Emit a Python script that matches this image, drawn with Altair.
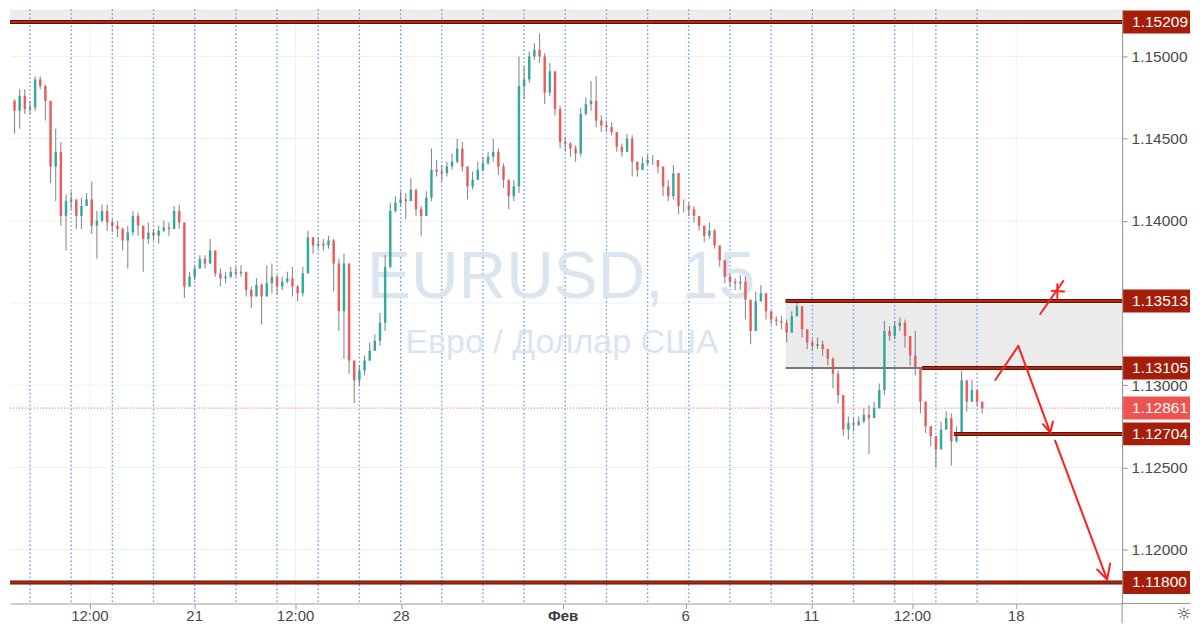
import altair as alt
import pandas as pd

# ---------------- data ----------------
first_index = -3          # candle index of the first visible candle
first_open = 1.1473

closes = [
    1.1467, 1.1476, 1.1468, 1.1469, 1.1486, 1.1482, 1.1473, 1.1433, 1.1442, 1.1403,
    1.1412, 1.1413, 1.1403, 1.1409, 1.1413, 1.1397, 1.1400, 1.1406, 1.1399, 1.1397,
    1.1395, 1.1388, 1.1393, 1.1403, 1.1397, 1.1389, 1.1393, 1.1391, 1.1394, 1.1396,
    1.1395, 1.1406, 1.1399, 1.1360, 1.1366, 1.1371, 1.1377, 1.1374, 1.1382, 1.1368,
    1.1365, 1.1366, 1.1369, 1.1368, 1.1369, 1.1358, 1.1354, 1.1361, 1.1354, 1.1362,
    1.1366, 1.1360, 1.1363, 1.1365, 1.1360, 1.1356, 1.1368, 1.1390, 1.1385, 1.1386,
    1.1385, 1.1388, 1.1374, 1.1345, 1.1374, 1.1315, 1.1303, 1.1309, 1.1315, 1.1321,
    1.1327, 1.1338, 1.1372, 1.1406, 1.1411, 1.1413, 1.1412, 1.1419, 1.1407, 1.1403,
    1.1414, 1.1431, 1.1430, 1.1429, 1.1433, 1.1436, 1.1444, 1.1433, 1.1421, 1.1425,
    1.1431, 1.1435, 1.1439, 1.1442, 1.1433, 1.1425, 1.1415, 1.1421, 1.1482, 1.1486,
    1.1500, 1.1504, 1.1500, 1.1478, 1.1491, 1.1468, 1.1448, 1.1447, 1.1444, 1.1441,
    1.1465, 1.1471, 1.1473, 1.1461, 1.1458, 1.1457, 1.1454, 1.1445, 1.1442, 1.1450,
    1.1436, 1.1431, 1.1435, 1.1437, 1.1437, 1.1433, 1.1421, 1.1415, 1.1429, 1.1409,
    1.1409, 1.1407, 1.1403, 1.1397, 1.1391, 1.1394, 1.1385, 1.1376, 1.1366, 1.1363,
    1.1362, 1.1363, 1.1352, 1.1333, 1.1351, 1.1356, 1.1345, 1.1340, 1.1339, 1.1338,
    1.1332, 1.1342, 1.1348, 1.1334, 1.1326, 1.1324, 1.1325, 1.1322, 1.1316, 1.1307,
    1.1294, 1.1273, 1.1277, 1.1276, 1.1278, 1.1282, 1.1280, 1.1286, 1.1297, 1.1333,
    1.1330, 1.1336, 1.1338, 1.1330, 1.1318, 1.1310, 1.1290, 1.1275, 1.1269, 1.1261,
    1.1273, 1.1280, 1.1266, 1.1271, 1.1303, 1.1290, 1.1297, 1.1290, 1.12861,
]
highs = [
    1.1474, 1.1480, 1.1480, 1.1473, 1.1488, 1.1488, 1.1483, 1.1465, 1.1456, 1.1448,
    1.1416, 1.1418, 1.1413, 1.1414, 1.1417, 1.1424, 1.1406, 1.1410, 1.1410, 1.1401,
    1.1400, 1.1396, 1.1397, 1.1406, 1.1405, 1.1397, 1.1399, 1.1395, 1.1397, 1.1400,
    1.1399, 1.1409, 1.1410, 1.1399, 1.1369, 1.1373, 1.1379, 1.1379, 1.1389, 1.1382,
    1.1371, 1.1369, 1.1372, 1.1372, 1.1373, 1.1369, 1.1360, 1.1365, 1.1362, 1.1373,
    1.1374, 1.1367, 1.1366, 1.1369, 1.1372, 1.1361, 1.1372, 1.1394, 1.1390, 1.1390,
    1.1389, 1.1391, 1.1389, 1.1377, 1.1380, 1.1371, 1.1309, 1.1312, 1.1318, 1.1326,
    1.1331, 1.1344, 1.1379, 1.1411, 1.1415, 1.1418, 1.1417, 1.1426, 1.1415, 1.1409,
    1.1418, 1.1444, 1.1437, 1.1434, 1.1436, 1.1441, 1.1450, 1.1448, 1.1431, 1.1430,
    1.1436, 1.1439, 1.1442, 1.1450, 1.1444, 1.1435, 1.1424, 1.1425, 1.1500, 1.1494,
    1.1503, 1.1508, 1.1514, 1.1502, 1.1496, 1.1491, 1.1470, 1.1451, 1.1448, 1.1446,
    1.1469, 1.1475, 1.1485, 1.1488, 1.1464, 1.1461, 1.1460, 1.1454, 1.1447, 1.1453,
    1.1452, 1.1436, 1.1439, 1.1440, 1.1440, 1.1437, 1.1433, 1.1425, 1.1434, 1.1429,
    1.1413, 1.1411, 1.1409, 1.1403, 1.1395, 1.1399, 1.1395, 1.1385, 1.1372, 1.1368,
    1.1365, 1.1367, 1.1366, 1.1344, 1.1357, 1.1361, 1.1356, 1.1345, 1.1342, 1.1342,
    1.1340, 1.1345, 1.1351, 1.1348, 1.1333, 1.1328, 1.1329, 1.1327, 1.1322, 1.1317,
    1.1309, 1.1290, 1.1281, 1.1280, 1.1281, 1.1286, 1.1288, 1.1290, 1.1301, 1.1339,
    1.1336, 1.1339, 1.1341, 1.1340, 1.1330, 1.1333, 1.1310, 1.1290, 1.1275, 1.1269,
    1.1278, 1.1284, 1.1283, 1.1275, 1.1309, 1.1300, 1.1303, 1.1297, 1.1290,
]
lows = [
    1.1453, 1.1456, 1.1465, 1.1465, 1.1467, 1.1480, 1.1461, 1.1423, 1.1412, 1.1397,
    1.1382, 1.1407, 1.1395, 1.1395, 1.1409, 1.1392, 1.1377, 1.1399, 1.1394, 1.1393,
    1.1390, 1.1382, 1.1371, 1.1391, 1.1391, 1.1369, 1.1386, 1.1388, 1.1386, 1.1393,
    1.1391, 1.1395, 1.1395, 1.1353, 1.1360, 1.1364, 1.1372, 1.1371, 1.1374, 1.1366,
    1.1360, 1.1362, 1.1365, 1.1366, 1.1366, 1.1354, 1.1347, 1.1356, 1.1337, 1.1356,
    1.1356, 1.1355, 1.1358, 1.1362, 1.1354, 1.1351, 1.1354, 1.1368, 1.1380, 1.1383,
    1.1382, 1.1383, 1.1357, 1.1333, 1.1316, 1.1307, 1.1289, 1.1300, 1.1306, 1.1316,
    1.1321, 1.1324, 1.1333, 1.1371, 1.1405, 1.1409, 1.1401, 1.1412, 1.1403, 1.1391,
    1.1406, 1.1412, 1.1427, 1.1424, 1.1427, 1.1431, 1.1435, 1.1430, 1.1413, 1.1419,
    1.1425, 1.1430, 1.1434, 1.1436, 1.1428, 1.1420, 1.1407, 1.1412, 1.1417, 1.1474,
    1.1484, 1.1498, 1.1496, 1.1471, 1.1476, 1.1464, 1.1444, 1.1442, 1.1439, 1.1436,
    1.1439, 1.1464, 1.1467, 1.1457, 1.1454, 1.1454, 1.1452, 1.1442, 1.1439, 1.1442,
    1.1427, 1.1427, 1.1431, 1.1434, 1.1434, 1.1429, 1.1415, 1.1412, 1.1413, 1.1404,
    1.1405, 1.1403, 1.1399, 1.1394, 1.1387, 1.1389, 1.1383, 1.1372, 1.1362, 1.1360,
    1.1358, 1.1358, 1.1340, 1.1325, 1.1338, 1.1351, 1.1340, 1.1337, 1.1336, 1.1334,
    1.1326, 1.1334, 1.1342, 1.1329, 1.1322, 1.1321, 1.1322, 1.1318, 1.1312, 1.1298,
    1.1289, 1.1269, 1.1267, 1.1272, 1.1275, 1.1277, 1.1258, 1.1280, 1.1287, 1.1294,
    1.1327, 1.1328, 1.1333, 1.1323, 1.1312, 1.1306, 1.1283, 1.1271, 1.1263, 1.1250,
    1.1263, 1.1275, 1.1251, 1.1265, 1.1269, 1.1284, 1.1292, 1.1287, 1.1283,
]

session_starts = [0, 8, 16, 24, 32, 40, 48, 56, 64, 72, 80, 88,
                  96, 104, 112, 120, 128, 136, 144, 152, 160, 168, 176, 184]
time_ticks = [11.64, 32.0, 51.6, 72.15, 103.57, 127.4, 151.86, 171.45, 191.6]
time_labels = ["12:00", "21", "12:00", "28", "Фев", "6", "11", "12:00", "18"]
time_bold = [False, False, False, False, True, False, False, False, False]

price_ticks = [1.12, 1.125, 1.13, 1.14, 1.145, 1.15]
grid_prices = [1.12, 1.125, 1.13, 1.135, 1.14, 1.145, 1.15]

full_levels = [1.15209, 1.118]
part_levels = [1.13513, 1.13105, 1.12704]
part_starts = [146.8, 173.3, 179.5]
zone_start, zone_end_gray = 146.8, 173.3
zone_low, zone_high = 1.13105, 1.13513
last_price = 1.12861

tag_prices = [1.15209, 1.13513, 1.13105, 1.12861, 1.12704, 1.118]
tag_colors = ["#a61d0a", "#a61d0a", "#a61d0a", "#ef5350", "#a61d0a", "#a61d0a"]

# hand-drawn arrows: segments (x1, p1) -> (x2, p2)
arr_x1 = [187.55, 192.01, 196.80, 198.74, 199.18, 207.33, 209.85, 196.28, 198.5, 199.6]
arr_p1 = [1.13032, 1.13239, 1.12763, 1.12779, 1.12662, 1.11879, 1.11915, 1.13433, 1.13575, 1.13615]
arr_x2 = [192.01, 198.22, 198.22, 198.22, 209.27, 209.27, 209.27, 200.74, 200.9, 199.6]
arr_p2 = [1.13239, 1.12712, 1.12712, 1.12712, 1.11818, 1.11818, 1.11818, 1.13634, 1.13570, 1.13528]

# ---------------- tables ----------------
n = len(closes)
opens = [first_open] + closes[:-1]
candles = pd.DataFrame({
    "i": list(range(first_index, first_index + n)),
    "open": opens, "close": closes, "high": highs, "low": lows,
})
candles["hi"] = candles[["high", "open", "close"]].max(axis=1)
candles["lo"] = candles[["low", "open", "close"]].min(axis=1)
candles["dir"] = ["up" if c >= o else "down" for o, c in zip(opens, closes)]

W, H = 1114, 595
X_DOM = [-3.88, 212.18]
Y_DOM = [1.116722, 1.152854]
FONT = "Liberation Sans"

X_AXIS = alt.Axis(orient="bottom", values=time_ticks, labels=False, tickSize=5,
                  tickColor="#9a9a9a", domainColor="#9a9a9a", grid=False, title=None)
Y_AXIS = alt.Axis(orient="right", values=price_ticks, format=".5f", labelFont=FONT,
                  labelFontSize=15.5, labelColor="#4a4a4a", tickSize=5, tickColor="#8f8f8f",
                  domainColor="#8f8f8f", labelPadding=4, grid=False, title=None)


def X(f):
    return alt.X(f"{f}:Q", scale=alt.Scale(domain=X_DOM, nice=False, zero=False), axis=X_AXIS)


def Y(f):
    return alt.Y(f"{f}:Q", scale=alt.Scale(domain=Y_DOM, nice=False, zero=False), axis=Y_AXIS)


one = pd.DataFrame({"a": [0]})

top_band = alt.Chart(pd.DataFrame({"p": [full_levels[0]]})).mark_rect(color="#ededed").encode(
    x=alt.value(0), x2=alt.value(W), y=Y("p"), y2=alt.value(0))

zone = alt.Chart(pd.DataFrame({"s": [zone_start], "lo": [zone_low], "hi": [zone_high]})).mark_rect(
    color="#ebebeb").encode(x=X("s"), x2=alt.value(W), y=Y("lo"), y2="hi:Q")

hgrid = alt.Chart(pd.DataFrame({"p": grid_prices})).mark_rule(color="#edf0f4", strokeWidth=1).encode(
    y=Y("p"), x=alt.value(0), x2=alt.value(W))

vgrid = alt.Chart(pd.DataFrame({"t": time_ticks})).mark_rule(color="#edf0f4", strokeWidth=1).encode(
    x=X("t"), y=alt.value(0), y2=alt.value(H))

sessions = alt.Chart(pd.DataFrame({"s": session_starts})).mark_rule(
    color="#5b93f0", strokeDash=[1.5, 2.5], strokeWidth=1.3).encode(
    x=X("s"), y=alt.value(0), y2=alt.value(H))

wm1 = alt.Chart(one).mark_text(text="EURUSD, 15", font=FONT, fontSize=66, color="#dae5f0",
                               align="center", baseline="alphabetic").encode(
    x=alt.value(552), y=alt.value(289))
wm2 = alt.Chart(one).mark_text(text="Евро / Доллар США", font=FONT, fontSize=34, color="#dae5f0",
                               align="center", baseline="alphabetic").encode(
    x=alt.value(553), y=alt.value(344))

last_line = alt.Chart(pd.DataFrame({"p": [last_price]})).mark_rule(
    color="#ef5350", strokeDash=[1, 2], strokeWidth=1).encode(
    y=Y("p"), x=alt.value(0), x2=alt.value(W))

wicks = alt.Chart(candles).mark_rule(color="#6e6e6e", strokeWidth=1.1, opacity=0.8).encode(
    x=X("i"), y=Y("lo"), y2="hi:Q")
bodies = alt.Chart(candles).mark_rule(strokeWidth=2.5, opacity=0.9).encode(
    x=X("i"), y=Y("open"), y2="close:Q",
    color=alt.Color("dir:N", scale=alt.Scale(domain=["up", "down"], range=["#26a69a", "#ef5350"]),
                    legend=None))

full_df = pd.DataFrame({"p": full_levels})
part_df = pd.DataFrame({"p": part_levels, "s": part_starts})
lvl_full_o = alt.Chart(full_df).mark_rule(color="#5e1208", strokeWidth=4).encode(
    y=Y("p"), x=alt.value(0), x2=alt.value(W))
lvl_full_i = alt.Chart(full_df).mark_rule(color="#b8260e", strokeWidth=2).encode(
    y=Y("p"), x=alt.value(0), x2=alt.value(W))
lvl_part_o = alt.Chart(part_df).mark_rule(color="#5e1208", strokeWidth=4).encode(
    y=Y("p"), x=X("s"), x2=alt.value(W))
lvl_part_i = alt.Chart(part_df).mark_rule(color="#b8260e", strokeWidth=2).encode(
    y=Y("p"), x=X("s"), x2=alt.value(W))
gray_seg = alt.Chart(pd.DataFrame({"p": [zone_low], "s": [zone_start], "e": [zone_end_gray]})).mark_rule(
    color="#777777", strokeWidth=2).encode(y=Y("p"), x=X("s"), x2="e:Q")

arrows = alt.Chart(pd.DataFrame({"x1": arr_x1, "p1": arr_p1, "x2": arr_x2, "p2": arr_p2})).mark_rule(
    color="#ff1f1f", strokeWidth=2, strokeCap="round").encode(
    x=X("x1"), x2="x2:Q", y=Y("p1"), y2="p2:Q")

tags = pd.DataFrame({"p": tag_prices, "bg": tag_colors, "label": [f"{v:.5f}" for v in tag_prices]})
tag_box = alt.Chart(tags).mark_tick(orient="horizontal", thickness=23, opacity=1).encode(
    y=Y("p"), x=alt.value(W + 34.5), size=alt.value(67), color=alt.Color("bg:N", scale=None))
tag_text = alt.Chart(tags).mark_text(align="left", baseline="middle", font=FONT, fontSize=15.5,
                                     color="white").encode(
    y=Y("p"), x=alt.value(W + 10), text="label:N")

tl = pd.DataFrame({"t": time_ticks, "label": time_labels, "bold": time_bold})
tlab = alt.Chart(tl).transform_filter("!datum.bold").mark_text(
    font=FONT, fontSize=15, color="#4a4a4a", baseline="middle").encode(
    x=X("t"), y=alt.value(H + 13), text="label:N")
tlab_b = alt.Chart(tl).transform_filter("datum.bold").mark_text(
    font=FONT, fontSize=15, fontWeight="bold", color="#3a3a3a", baseline="middle").encode(
    x=X("t"), y=alt.value(H + 13), text="label:N")

ext1 = alt.Chart(one).mark_rule(color="#8f8f8f").encode(
    x=alt.value(W), y=alt.value(H), y2=alt.value(H + 20))
ext2 = alt.Chart(one).mark_rule(color="#9a9a9a").encode(
    x=alt.value(W), x2=alt.value(W + 68), y=alt.value(H))
gear = alt.Chart(one).mark_text(text="☼", font="DejaVu Sans", fontSize=17, color="#444444",
                                baseline="middle").encode(x=alt.value(W + 62), y=alt.value(H + 12))

chart = alt.layer(
    top_band, zone, hgrid, vgrid, sessions, wm1, wm2, last_line,
    wicks, bodies, gray_seg, lvl_full_o, lvl_full_i, lvl_part_o, lvl_part_i,
    arrows, tag_box, tag_text, tlab, tlab_b, ext1, ext2, gear,
).properties(width=W, height=H, padding=0, background="white").configure_view(stroke=None)

chart.save("out.html", embed_options={"renderer": "svg", "actions": False})
